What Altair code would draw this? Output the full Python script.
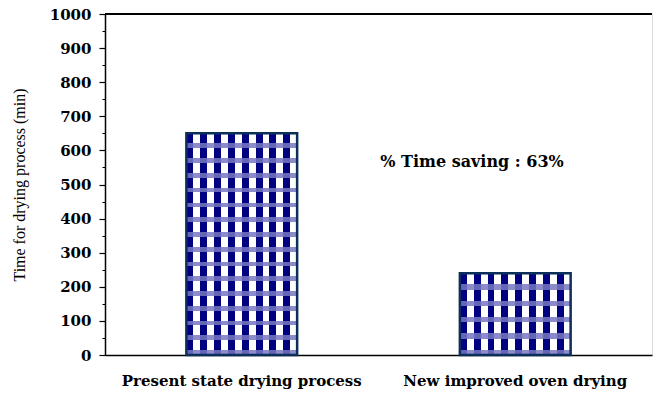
import altair as alt
import pandas as pd

categories = ["Present state drying process", "New improved oven drying"]
times = [650, 240]
annotation = "% Time saving : 63%"
annotation_y = 565
y_max = 1000

df = pd.DataFrame({"process": categories, "time": times})

NAVY = "#000080"
PLOT_H = 341
PERIOD = 15.0


def stripes(n, c1, c2, frac, direction):
    stops = []
    for i in range(n):
        a = i / n
        b = (i + frac) / n
        c = (i + 1) / n
        stops += [
            {"offset": a, "color": c1},
            {"offset": b, "color": c1},
            {"offset": b, "color": c2},
            {"offset": c, "color": c2},
        ]
    g = {"gradient": "linear", "stops": stops, "x1": 0, "y1": 0}
    if direction == "x":
        g.update({"x2": 1, "y2": 0})
    else:
        g.update({"x2": 0, "y2": 1})
    return g


vert = stripes(8, NAVY, "#ffffff", 0.5, "x")
band_col = "rgba(120,120,195,0.85)"
h1 = stripes(max(1, round(times[0] / 1000 * PLOT_H / PERIOD)), "rgba(0,0,0,0)", band_col, 0.68, "y")
h2 = stripes(max(1, round(times[1] / 1000 * PLOT_H / PERIOD)), "rgba(0,0,0,0)", band_col, 0.68, "y")

xaxis = alt.Axis(
    ticks=False,
    labelAngle=0,
    labelPadding=18,
    labelLimit=0,
    labelFont="DejaVu Serif",
    labelFontWeight="bold",
    labelFontSize=15,
    labelColor="black",
    domainColor="black",
    domainWidth=1.5,
    grid=False,
    title=None,
)
xscale = alt.Scale(paddingInner=0.595, paddingOuter=0.2975)
yscale = alt.Scale(domain=[0, y_max], nice=False)


def xenc():
    return alt.X("process:N", sort=categories, title=None, scale=xscale, axis=xaxis)


base = alt.Chart(df)

layer_v = base.mark_bar().encode(
    x=xenc(),
    y=alt.Y(
        "time:Q",
        scale=yscale,
        title="Time for drying process (min)",
        axis=alt.Axis(
            values=list(range(0, 1001, 100)),
            format="d",
            tickSize=6,
            tickColor="black",
            tickWidth=1.2,
            domainColor="black",
            domainWidth=1.5,
            grid=False,
            labelFont="DejaVu Serif",
            labelFontWeight="bold",
            labelFontSize=15,
            labelColor="black",
            labelPadding=8,
            titleFont="Liberation Serif",
            titleFontWeight="normal",
            titleFontSize=16,
            titleColor="black",
            titlePadding=22,
            orient="left",
        ),
    ),
    fill=alt.value(vert),
)

layer_h = base.mark_bar(stroke="#0b2f5a", strokeWidth=2.5).encode(
    x=xenc(),
    y=alt.Y("time:Q", scale=yscale, axis=None),
    fill=alt.condition(alt.datum.process == categories[0], alt.value(h1), alt.value(h2)),
)

minor = base.mark_bar(opacity=0).encode(
    x=xenc(),
    y=alt.Y(
        "time:Q",
        scale=yscale,
        axis=alt.Axis(
            values=list(range(50, 1000, 100)),
            tickSize=3,
            tickColor="black",
            labels=False,
            domain=False,
            grid=False,
            title=None,
            orient="left",
        ),
    ),
)

top_rule = alt.Chart(pd.DataFrame({"y": [y_max]})).mark_rule(color="black", strokeWidth=2).encode(
    y=alt.Y("y:Q", scale=yscale, axis=None),
)

text = alt.Chart(pd.DataFrame({"label": [annotation], "y": [annotation_y]})).mark_text(
    font="DejaVu Serif", fontWeight="bold", fontSize=16, align="center", baseline="middle", color="black"
).encode(
    x=alt.value(367),
    y=alt.Y("y:Q", scale=yscale, axis=None),
    text="label:N",
)

chart = (
    alt.layer(layer_v, layer_h, minor, top_rule, text)
    .resolve_axis(y="independent")
    .properties(
        width=547,
        height=341,
        autosize=alt.AutoSizeParams(type="none"),
        padding={"left": 105, "top": 14, "right": 1, "bottom": 39},
    )
    .configure_view(stroke="#808080", strokeWidth=1.5)
    .configure_axis(grid=False, domainColor="black")
    .configure(background="white")
)

chart.save("out.html", embed_options={"renderer": "svg", "actions": False})
